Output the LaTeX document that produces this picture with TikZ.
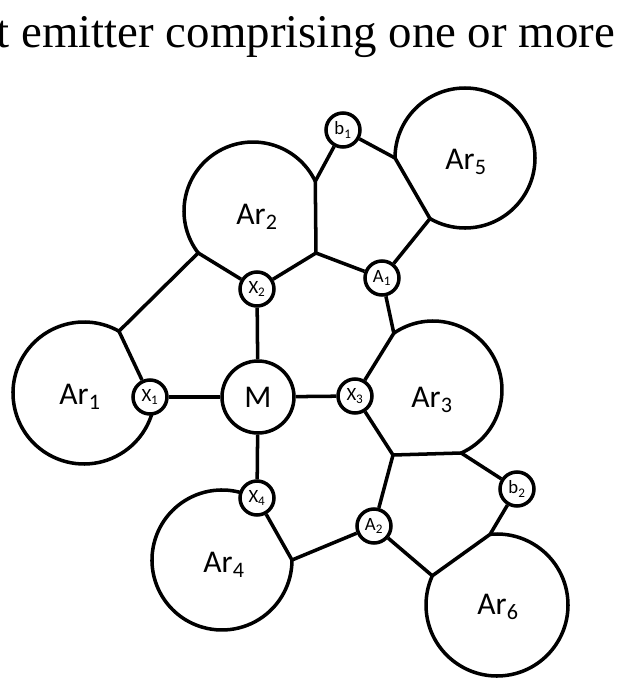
\documentclass[tikz,border=0pt]{standalone}
\usepackage{fontspec}
\setmainfont{Liberation Serif}
\newfontfamily\lab{Carlito}
\usetikzlibrary{calc}
\begin{document}
\begin{tikzpicture}[x=0.03cm,y=-0.03cm,line width=3pt,
  big/.style={font=\lab\fontsize{27}{30}\selectfont,inner sep=0pt},
  mnode/.style={draw,circle,fill=white,inner sep=0pt,minimum size=72*0.03cm,font=\lab\fontsize{27}{30}\selectfont},
  sm/.style={draw,circle,fill=white,inner sep=0pt,minimum size=34*0.03cm,font=\lab\fontsize{16}{18}\selectfont}]
\useasboundingbox (0,0) rectangle (623,691);
\begin{scope}
\clip (0,0) rectangle (623,691);
\node[anchor=base west,inner sep=0pt,font=\fontsize{40}{44}\selectfont] (title) at (-5,47) {t emitter comprising one or more};
\end{scope}
% ring centres
\coordinate (c1) at (84,393);
\coordinate (c2) at (253,211);
\coordinate (c5) at (465,158);
\coordinate (c3) at (433,390);
\coordinate (c4) at (222,560);
\coordinate (c6) at (497,605);
% arcs
\draw ($(c1)+(-60.5:71)$) coordinate (p1) arc[start angle=-60.5,end angle=-345,radius=71];
\draw ($(c2)+(142.6:69)$) coordinate (p2) arc[start angle=142.6,end angle=334.5,radius=69] coordinate (p4);
\draw ($(c5)+(180:70)$) coordinate (p5) arc[start angle=180,end angle=480,radius=70] coordinate (p6);
\draw ($(c3)+(-124.6:69)$) coordinate (p7) arc[start angle=-124.6,end angle=65.9,radius=69] coordinate (p9);
\draw ($(c4)+(-73.6:70)$) arc[start angle=-73.6,end angle=-360,radius=70] coordinate (p12);
\draw ($(c6)+(-95.6:71)$) coordinate (p10) arc[start angle=-95.6,end angle=204.3,radius=71] coordinate (p11);
\coordinate (p3) at (316,253);
\coordinate (p8) at (393,455);
% labels
\node[big] (Ar1) at (80,397) {Ar\textsubscript{1}};
\node[big] (Ar2) at (257,217) {Ar\textsubscript{2}};
\node[big] (Ar5) at (466,162) {Ar\textsubscript{5}};
\node[big] (Ar3) at (432,400) {Ar\textsubscript{3}};
\node[big] (Ar4) at (224,565) {Ar\textsubscript{4}};
\node[big] (Ar6) at (498,607) {Ar\textsubscript{6}};
\node[mnode] (M) at (258,397) {M};
\node[sm] (X1) at (150,397) {X\textsubscript{1}};
\node[sm] (X2) at (257,289) {X\textsubscript{2}};
\node[sm] (X3) at (355,396) {X\textsubscript{3}};
\node[sm] (X4) at (257,498) {X\textsubscript{4}};
\node[sm] (A1) at (382,278) {A\textsubscript{1}};
\node[sm] (A2) at (374,526) {A\textsubscript{2}};
\node[sm] (b1) at (343,130) {b\textsubscript{1}};
\node[sm] (b2) at (517,489) {b\textsubscript{2}};
% connectors
\draw (X1)--(M) (M)--(X3) (M)--(X2) (M)--(X4);
\draw (X1)--(p1)--(p2)--(X2)--(p3)--(p4)--(b1)--(p5)--(p6)--(A1)--(p3);
\draw (A1)--(p7)--(X3)--(p8)--(p9)--(b2)--(p10)--(p11);
\draw (p8)--(A2)--(p11);
\draw (A2)--(p12)--(X4);
\end{tikzpicture}
\end{document}
